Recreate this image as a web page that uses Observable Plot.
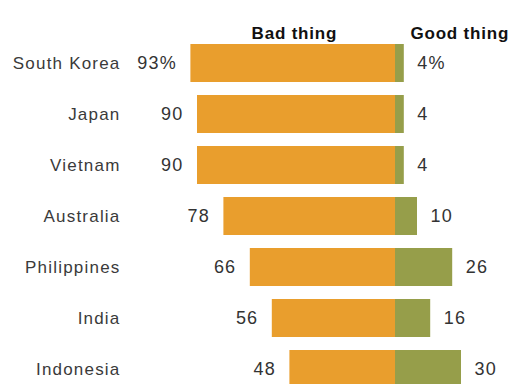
<!DOCTYPE html>
<html><head><meta charset="utf-8">
<script src="https://cdn.jsdelivr.net/npm/d3@7"></script>
<script src="https://cdn.jsdelivr.net/npm/@observablehq/plot@0.6"></script>
<style>body{margin:0;background:#fff;overflow:hidden}</style>
</head><body><div id="chart"></div>
<script>
const countries = ["South Korea","Japan","Vietnam","Australia","Philippines","India","Indonesia"];
const bad = [93,90,90,78,66,56,48];
const good = [4,4,4,10,26,16,30];
const badLabels = ["93%","90","90","78","66","56","48"];
const goodLabels = ["4%","4","4","10","26","16","30"];
const headers = ["Bad thing","Good thing"];
const headerX = [-26.5, 6.8];
const headerAnchor = ["end","start"];

const rows = countries.map((c,i)=>({country:c, bad:bad[i], good:good[i], badLabel:badLabels[i], goodLabel:goodLabels[i]}));
const heads = headers.map((h,i)=>({text:h, x:headerX[i], anchor:headerAnchor[i]}));

const ORANGE = "#E99E2D", GREEN = "#969E4A";

const chart = Plot.plot({
  width: 513,
  height: 384,
  marginLeft: 125,
  marginRight: 0,
  marginTop: 37,
  marginBottom: -12,
  style: {fontFamily: "Liberation Sans, Arial, sans-serif", background: "#fff", overflow: "visible"},
  x: {domain: [-(395-125)/2.2, (513-395)/2.2], axis: null},
  y: {domain: countries, paddingInner: 0.25, paddingOuter: 0.125, label: null},
  marks: [
    Plot.axisY({tickSize: 0, tickPadding: 5, fontSize: 17, color: "#3a3a3a", label: null}),
    Plot.barX(rows, {y: "country", x1: d => -d.bad, x2: 0, fill: ORANGE}),
    Plot.barX(rows, {y: "country", x1: 0, x2: "good", fill: GREEN}),
    Plot.text(rows, {y: "country", x: d => -d.bad, text: "badLabel", textAnchor: "end", dx: -14, fontSize: 18, fill: "#333"}),
    Plot.text(rows, {y: "country", x: "good", text: "goodLabel", textAnchor: "start", dx: 13, fontSize: 18, fill: "#333"}),
    Plot.text(heads.filter(d=>d.anchor==="end"), {x: "x", text: "text", frameAnchor: "top", textAnchor: "end", dy: -10.5, fontSize: 17, fontWeight: "bold", fill: "#111"}),
    Plot.text(heads.filter(d=>d.anchor==="start"), {x: "x", text: "text", frameAnchor: "top", textAnchor: "start", dy: -10.5, fontSize: 17, fontWeight: "bold", fill: "#111"})
  ]
});
d3.select(chart).selectAll("text").style("letter-spacing", "1.2px");
d3.select(chart).selectAll("text").filter(function(){ return headers.includes(this.textContent); }).style("letter-spacing", "0.8px");
document.getElementById("chart").appendChild(chart);
</script>
</body></html>
